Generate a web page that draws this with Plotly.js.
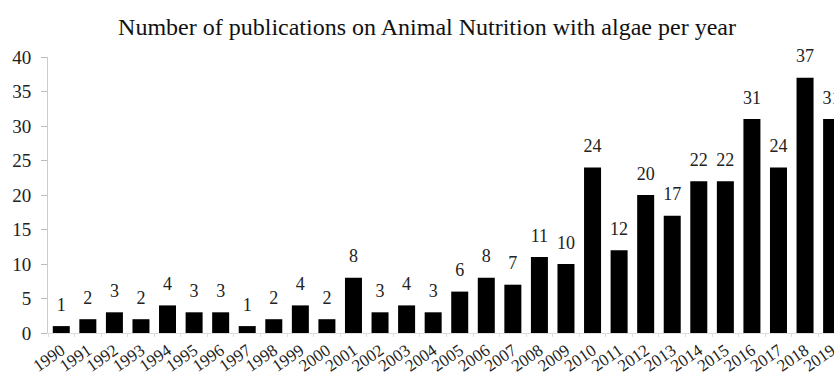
<!DOCTYPE html>
<html>
<head>
<meta charset="utf-8">
<script src="https://cdn.plot.ly/plotly-3.0.1.min.js"></script>
<style>html,body{margin:0;padding:0;background:#fff;overflow:hidden;}#chart{width:834px;height:382px;}</style>
</head>
<body>
<div id="chart"></div>
<script>
const years = ["1990","1991","1992","1993","1994","1995","1996","1997","1998","1999","2000","2001","2002","2003","2004","2005","2006","2007","2008","2009","2010","2011","2012","2013","2014","2015","2016","2017","2018","2019"];
const publications = [1,2,3,2,4,3,3,1,2,4,2,8,3,4,3,6,8,7,11,10,24,12,20,17,22,22,31,24,37,31];
const yTicks = [0,5,10,15,20,25,30,35,40];
const titleText = "Number of publications on Animal Nutrition with algae per year";

const serif = "Liberation Serif";

Plotly.newPlot("chart", [{
  type: "bar",
  x: years,
  y: publications,
  marker: {color: "#000", line: {width: 0}},
  hoverinfo: "none"
}, {
  type: "scatter",
  mode: "markers+text",
  x: years,
  y: publications,
  text: publications.map(String),
  textposition: "top center",
  cliponaxis: false,
  marker: {size: 16, opacity: 0, color: "#fff"},
  textfont: {family: serif, size: 18, color: "#222"},
  hoverinfo: "none"
}], {
  width: 834, height: 382,
  margin: {l: 48, r: 0, t: 57, b: 49, pad: 0},
  paper_bgcolor: "#fff", plot_bgcolor: "#fff",
  bargap: 0.36,
  showlegend: false,
  font: {family: serif},
  title: {text: titleText, x: 0.512, xanchor: "center", y: 0.93, yanchor: "middle",
          font: {family: serif, size: 24, color: "#111"}},
  xaxis: {
    type: "category",
    range: [-0.5, 29.09],
    showline: true, linecolor: "#ddd", linewidth: 1,
    ticks: "outside", tickson: "boundaries", ticklen: 3, tickcolor: "#ddd",
    tickangle: -35,
    ticklabelstandoff: 0,
    tickfont: {family: serif, size: 17, color: "#222"},
    showgrid: false, zeroline: false, fixedrange: true
  },
  yaxis: {
    range: [0, 40],
    tickvals: yTicks,
    showline: true, linecolor: "#ccc", linewidth: 1,
    ticks: "outside", ticklen: 6, tickcolor: "#bbb",
    ticklabelstandoff: 6,
    tickfont: {family: serif, size: 19, color: "#222"},
    showgrid: false, zeroline: false, fixedrange: true
  }
}, {staticPlot: true});
</script>
</body>
</html>
